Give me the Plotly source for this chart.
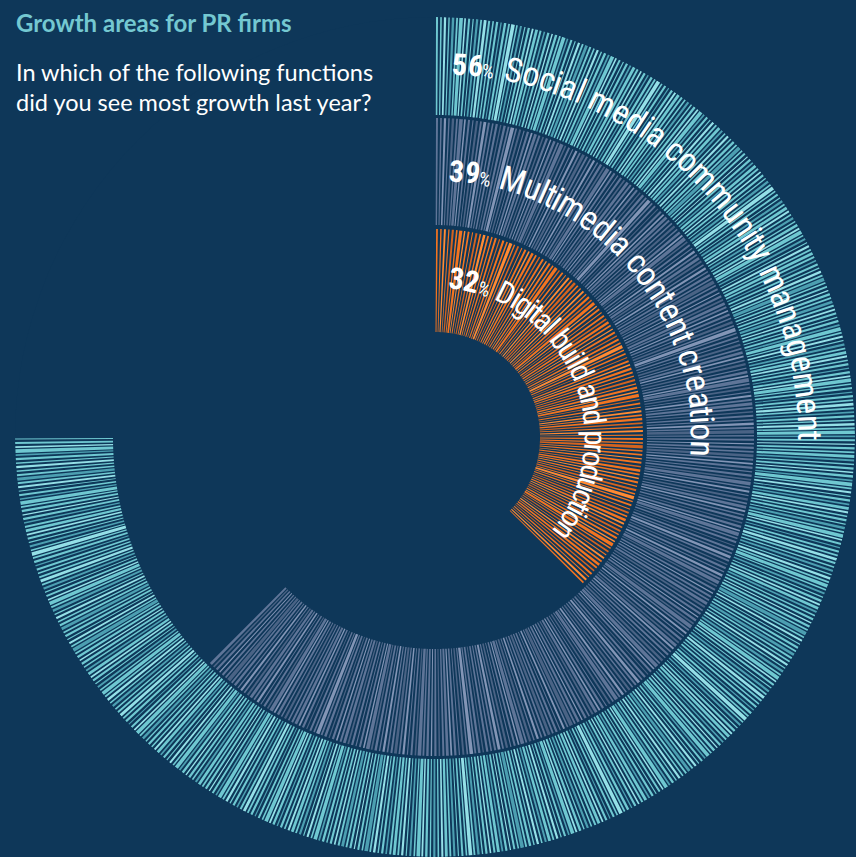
import math
import plotly.graph_objects as go

# ---------------- data ----------------
categories = ["Social media community management",
              "Multimedia content creation",
              "Digital build and production"]
percent = [56, 39, 32]
arc_deg = [270, 225, 135]          # angular sweep of each ring as drawn

title = "Growth areas for PR firms"
subtitle = ["In which of the following functions",
            "did you see most growth last year?"]

# ---------------- style ----------------
W, H = 856, 857
BG = "#0e3759"
CX, CY, R = 435, 437, 420          # polar centre (px from left/top) and radius (px)

ring_r0 = [322, 212, 105]
ring_r1 = [420, 319, 208]
ring_step = [0.55, 0.72, 1.1]
ring_wmul = [1.0, 1.0, 0.9]
ring_colors = [["#6fc8d1", "#94e0e7", "#4c9fb1"],
               ["#5f7598", "#8395b6", "#4a6385"],
               ["#f37420", "#ff8a33", "#d4631f"]]
# hand-made texture pattern (line width as share of step, colour index)
wfrac = [0.5, 0.4, 0.55, 0.35, 0.6, 0.45, 0.9, 0.4, 0.5, 0.3, 0.55, 0.45, 0.7]
cidx = [0, 0, 1, 0, 2, 0, 0, 1, 0, 0, 2, 0, 1, 0, 0, 0, 2]

label_rb = [363, 256, 149]         # baseline radius of curved labels
label_t0 = [2.6, 3.0, 4.7]
label_t1 = [90.5, 94.3, 128.5]
label_size = [34, 34, 31]
NUM_SIZE, PCT_SIZE = 30, 19
COND = "Roboto Condensed, Liberation Sans Narrow, sans-serif"

fig = go.Figure()

for i in range(len(categories)):
    n = int(round(arc_deg[i] / ring_step[i]))
    step = arc_deg[i] / n
    thetas, widths, cols = [], [], []
    for k in range(n):
        thetas.append(step * (k + 0.5))
        widths.append(step * wfrac[k % len(wfrac)] * ring_wmul[i])
        cols.append(ring_colors[i][cidx[k % len(cidx)]])
    fig.add_trace(go.Barpolar(
        theta=thetas, width=widths,
        r=[ring_r1[i] - ring_r0[i]] * n, base=[ring_r0[i]] * n,
        marker=dict(color=cols, line=dict(width=0)),
        hoverinfo="skip", showlegend=False))

# ---------------- curved labels ----------------
AW = {' ': 278, 'a': 556, 'b': 556, 'c': 500, 'd': 556, 'e': 556,
      'f': 278, 'g': 556, 'h': 556, 'i': 222, 'j': 222, 'k': 500, 'l': 222,
      'm': 833, 'n': 556, 'o': 556, 'p': 556, 'q': 556, 'r': 333, 's': 500,
      't': 278, 'u': 556, 'v': 500, 'w': 722, 'x': 500, 'y': 500, 'z': 500,
      'D': 722, 'M': 833, 'S': 667}


def to_paper(r, t):
    a = math.radians(t)
    xp = CX + r * math.sin(a)
    yp = CY - r * math.cos(a)
    return xp / W, 1 - yp / H


annotations = []


def put(c, s, bold, t, rb):
    x, y = to_paper(rb + 0.36 * s, t)
    txt = "<b>%s</b>" % c if bold else c
    annotations.append(dict(
        x=x, y=y, xref="paper", yref="paper", text=txt, showarrow=False,
        xanchor="center", yanchor="middle", textangle=t,
        font=dict(family=COND, size=s, color="white")))


for i in range(len(categories)):
    rb = label_rb[i]
    pos = 0.0
    # fixed-width prefix "NN%"
    for c in str(percent[i]):
        a = 0.5 * NUM_SIZE
        put(c, NUM_SIZE, True, label_t0[i] + math.degrees((pos + a / 2) / rb), rb)
        pos += a
    a = 0.62 * PCT_SIZE
    put("%", PCT_SIZE, False, label_t0[i] + math.degrees((pos + a / 2) / rb), rb)
    pos += a
    # remaining text fitted to the arc
    s = label_size[i]
    text = " " + categories[i]
    adv = [AW.get(c, 556) / 1000 * s * 0.82 for c in text]
    avail = math.radians(label_t1[i] - label_t0[i]) * rb - pos
    sc = avail / sum(adv)
    for c, a in zip(text, adv):
        mid = pos + a * sc / 2
        pos += a * sc
        if c == " ":
            continue
        put(c, s, False, label_t0[i] + math.degrees(mid / rb), rb)

annotations.append(dict(
    x=14 / W, y=1 - 23 / H, xref="paper", yref="paper", xanchor="left",
    yanchor="middle", showarrow=False, text="<b>%s</b>" % title,
    font=dict(family="Lato", size=24, color="#74c8d1")))
for j, line in enumerate(subtitle):
    annotations.append(dict(
        x=14 / W, y=1 - (72 + 30 * j) / H, xref="paper", yref="paper",
        xanchor="left", yanchor="middle", showarrow=False, text=line,
        font=dict(family="Lato", size=23.5, color="white")))

fig.update_layout(
    width=W, height=H, margin=dict(l=0, r=0, t=0, b=0),
    paper_bgcolor=BG, plot_bgcolor=BG,
    polar=dict(
        domain=dict(x=[(CX - R) / W, (CX + R) / W],
                    y=[(H - CY - R) / H, (H - CY + R) / H]),
        bgcolor=BG, hole=0,
        angularaxis=dict(rotation=90, direction="clockwise", visible=False,
                         showgrid=False, showline=False),
        radialaxis=dict(range=[0, R], visible=False, showgrid=False,
                        showline=False)),
    bargap=0,
    annotations=annotations)

fig.write_html("out.html", config={"displayModeBar": False},
               post_script="document.body.style.margin='0';")
